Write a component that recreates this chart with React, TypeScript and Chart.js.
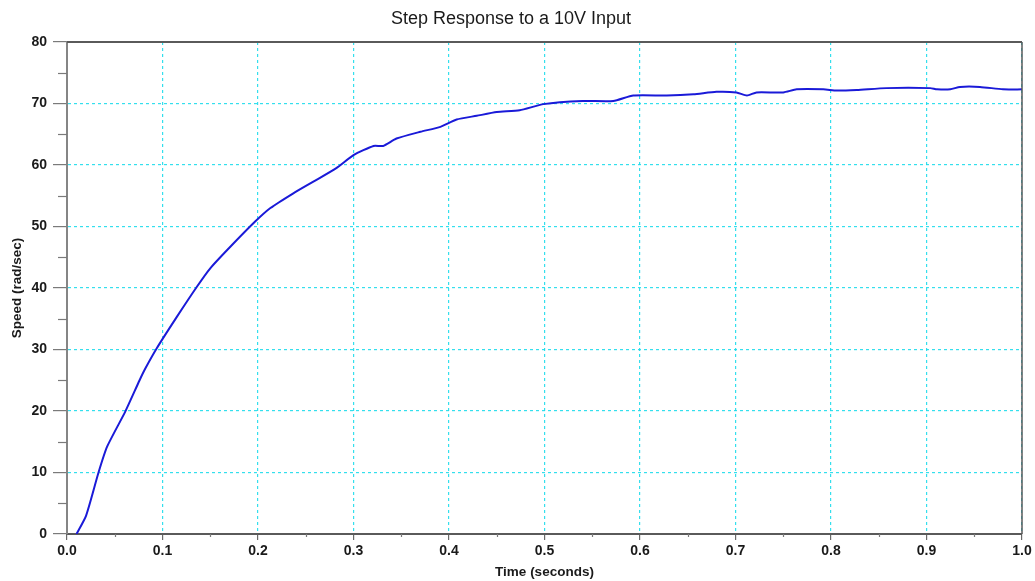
import React, { useEffect, useRef } from "react";
import { Chart, registerables } from "chart.js";

Chart.register(...registerables);

const chartTitle = "Step Response to a 10V Input";
const xAxisTitle = "Time (seconds)";
const yAxisTitle = "Speed (rad/sec)";

const timeValues = [
  0.01, 0.02, 0.033, 0.042, 0.061, 0.076, 0.082, 0.094, 0.115, 0.136, 0.15, 0.171,
  0.197, 0.213, 0.237, 0.258, 0.282, 0.3, 0.321, 0.331, 0.345, 0.37, 0.391, 0.408,
  0.429, 0.45, 0.474, 0.499, 0.54, 0.572, 0.593, 0.628, 0.656, 0.68, 0.701, 0.712,
  0.722, 0.75, 0.764, 0.792, 0.806, 0.827, 0.858, 0.904, 0.911, 0.925, 0.935, 0.956,
  0.98, 1.0,
];
const speedValues = [
  0, 3.0, 10.0, 14.2, 19.9, 25.0, 26.9, 30.2, 35.3, 40.2, 43.2, 46.7,
  50.8, 53.0, 55.4, 57.3, 59.5, 61.6, 63.1, 63.1, 64.3, 65.4, 66.2, 67.4,
  68.0, 68.6, 68.9, 69.9, 70.4, 70.4, 71.3, 71.3, 71.5, 71.9, 71.8, 71.3,
  71.8, 71.8, 72.3, 72.3, 72.1, 72.2, 72.5, 72.5, 72.3, 72.3, 72.7, 72.7,
  72.3, 72.3,
];

const xMin = 0;
const xMax = 1;
const xStep = 0.1;
const yMin = 0;
const yMax = 80;
const yStep = 10;
const xMinorTicks = [0.05, 0.15, 0.25, 0.35, 0.45, 0.55, 0.65, 0.75, 0.85, 0.95];
const yMinorTicks = [5, 15, 25, 35, 45, 55, 65, 75];

const FONT = "'Liberation Sans', Arial, Helvetica, sans-serif";

const framePlugin = {
  id: "frameAndMinorTicks",
  afterDraw(chart: any) {
    const { ctx, chartArea, scales } = chart;
    const { left, right, top, bottom } = chartArea;
    ctx.save();
    ctx.strokeStyle = "#5a5a5a";
    ctx.lineWidth = 2;
    ctx.beginPath();
    ctx.moveTo(left, top);
    ctx.lineTo(right, top);
    ctx.stroke();
    ctx.lineWidth = 1.5;
    ctx.beginPath();
    ctx.moveTo(right, top);
    ctx.lineTo(right, bottom);
    ctx.stroke();
    ctx.strokeStyle = "#7a7a7a";
    ctx.lineWidth = 1.2;
    yMinorTicks.forEach((v) => {
      const y = Math.round(scales.y.getPixelForValue(v)) + 0.5;
      ctx.beginPath();
      ctx.moveTo(left - 9, y);
      ctx.lineTo(left, y);
      ctx.stroke();
    });
    xMinorTicks.forEach((v) => {
      const x = Math.round(scales.x.getPixelForValue(v)) + 0.5;
      ctx.beginPath();
      ctx.moveTo(x, bottom);
      ctx.lineTo(x, bottom + 3);
      ctx.stroke();
    });
    ctx.restore();
  },
};

export default function App() {
  const canvasRef = useRef<HTMLCanvasElement | null>(null);

  useEffect(() => {
    if (!canvasRef.current) return;
    const points = timeValues.map((t, i) => ({ x: t, y: speedValues[i] }));
    const gridColor = "rgba(30, 220, 235, 0.9)";
    const chart = new Chart(canvasRef.current, {
      type: "line",
      data: {
        datasets: [
          {
            data: points,
            borderColor: "#1a1ad8",
            borderWidth: 2,
            pointRadius: 0,
            tension: 0.2,
            fill: false,
          },
        ],
      },
      options: {
        animation: false,
        responsive: false,
        maintainAspectRatio: false,
        layout: { padding: { left: 0, right: 13, top: 0, bottom: 0 } },
        plugins: {
          legend: { display: false },
          tooltip: { enabled: false },
          title: {
            display: true,
            text: chartTitle,
            color: "#1a1a1a",
            font: { family: FONT, size: 18, weight: "normal" },
            padding: { top: 8, bottom: 12.4 },
          },
        },
        scales: {
          x: {
            type: "linear",
            min: xMin,
            max: xMax,
            afterFit: (scale: any) => {
              scale.height = 47;
            },
            ticks: {
              stepSize: xStep,
              autoSkip: false,
              maxRotation: 0,
              padding: 3,
              color: "#1a1a1a",
              font: { family: FONT, size: 14, weight: "bold" },
              callback: (v: any) => Number(v).toFixed(1),
            },
            grid: {
              color: gridColor,
              lineWidth: 1.2,
              drawTicks: true,
              tickLength: 6,
              tickColor: "#6a6a6a",
              tickWidth: 1.2,
            },
            border: { display: true, color: "#5a5a5a", width: 2, dash: [3, 3] },
            title: {
              display: true,
              text: xAxisTitle,
              color: "#1a1a1a",
              font: { family: FONT, size: 13.5, weight: "bold" },
              padding: { top: 0, bottom: 1 },
            },
          },
          y: {
            type: "linear",
            min: yMin,
            max: yMax,
            afterFit: (scale: any) => {
              scale.width = 67;
            },
            ticks: {
              stepSize: yStep,
              padding: 6,
              color: "#1a1a1a",
              font: { family: FONT, size: 14, weight: "bold" },
            },
            grid: {
              color: gridColor,
              lineWidth: 1.2,
              drawTicks: true,
              tickLength: 14,
              tickColor: "#7a7a7a",
              tickWidth: 1.2,
            },
            border: { display: true, color: "#858585", width: 2, dash: [3, 3] },
            title: {
              display: true,
              text: yAxisTitle,
              color: "#1a1a1a",
              font: { family: FONT, size: 13.5, weight: "bold" },
              padding: { top: 9, bottom: 0 },
            },
          },
        },
      },
      plugins: [framePlugin],
    } as any);
    return () => chart.destroy();
  }, []);

  return (
    <div style={{ position: "absolute", left: 0, top: 0, width: 1035, height: 581, background: "#fff" }}>
      <canvas ref={canvasRef} width={1035} height={581} style={{ display: "block" }} />
    </div>
  );
}
